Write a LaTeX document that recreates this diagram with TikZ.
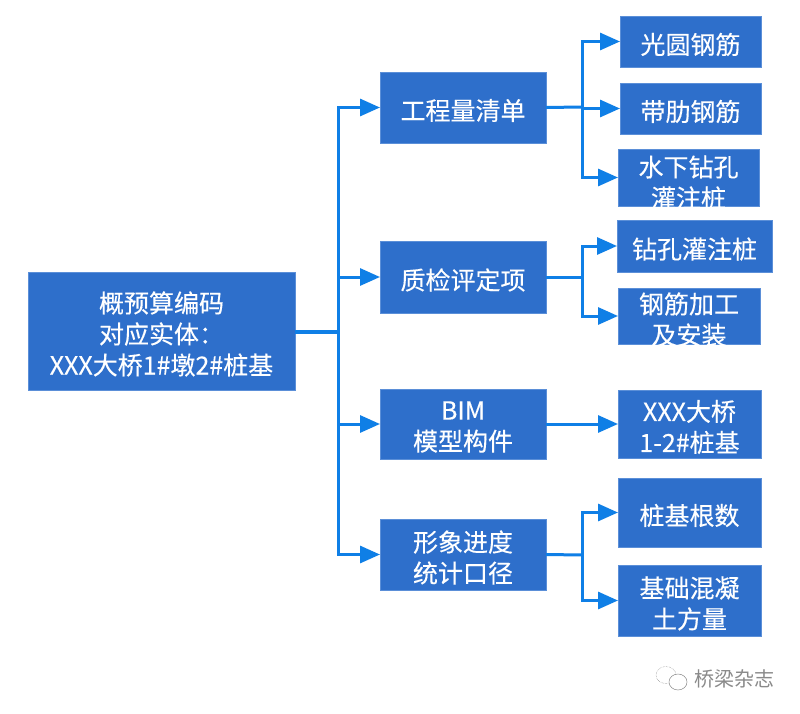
\documentclass[tikz,border=0pt]{standalone}
\usepackage{fontspec}
\setmainfont[FakeBold=0.25]{Noto Sans CJK SC}
\newfontfamily\markfont{Noto Sans CJK SC}
\usetikzlibrary{arrows.meta}
\definecolor{boxblue}{HTML}{2E6FCB}
\definecolor{boxedge}{HTML}{5B8FD8}
\definecolor{linkblue}{HTML}{0F7FE6}
\definecolor{markgray}{HTML}{8A8A8A}
\tikzset{
  box/.style={draw=boxedge,line width=0.6pt,fill=boxblue,inner sep=0pt,outer sep=0pt},
  lbl/.style={text=white,inner sep=0pt,align=center,font=\fontsize{25pt}{31pt}\selectfont},
  link/.style={draw=linkblue,line width=3pt},
  arr/.style={link,-{Triangle[length=20pt,width=17pt]}},
}
% name, left, right, top, bottom, text y offset, text
\newcommand{\bx}[7]{\node[box,minimum width=#3 pt-#2 pt,minimum height=#5 pt-#4 pt] (#1) at ({(#2+#3)/2},{(#4+#5)/2}) {};
  \node[lbl] (#1t) at ([yshift=-#6 pt]#1.center) {#7};}
\begin{document}
\begin{tikzpicture}[x=1pt,y=-1pt]
\useasboundingbox (0,0) rectangle (800,714);
\fill[white] (0,0) rectangle (800,714);
\bx{root}{28}{295}{272}{390}{3}{概预算编码\\对应实体：\\XXX大桥1\#墩2\#桩基}
\bx{a}{380}{546}{72}{143}{3}{工程量清单}
\bx{b}{380}{546}{241}{313}{3}{质检评定项}
\bx{c}{380}{546}{389}{459}{3}{BIM\\模型构件}
\bx{d}{380}{546}{519}{590}{3}{形象进度\\统计口径}
\bx{a1}{620}{761}{16}{67}{3}{光圆钢筋}
\bx{a2}{620}{761}{83}{134}{3}{带肋钢筋}
\bx{a3}{618}{759}{149}{206}{5}{水下钻孔\\灌注桩}
\bx{b1}{617}{772}{220}{272}{3}{钻孔灌注桩}
\bx{b2}{618}{760}{288}{344}{3.5}{钢筋加工\\及安装}
\bx{c1}{618}{761}{390}{458}{3}{XXX大桥\\1-2\#桩基}
\bx{d1}{618}{761}{478}{547}{3}{桩基根数}
\bx{d2}{618}{761}{565}{636}{3}{基础混凝\\土方量}
% trunk junctions
\coordinate (j0) at (338,332);
\coordinate (ja) at (582,107);
\coordinate (jb) at (582,277);
\coordinate (jd) at (582,555);
\draw[link,line width=4pt] (root.east|-j0) -- (j0);
\foreach \t in {a,b,c,d} \draw[arr] (j0) |- (\t.west);
\draw[link] (a.east) -- (ja);
\foreach \t in {a1,a2,a3} \draw[arr] (ja) |- (\t.west);
\draw[link] (b.east) -- (jb);
\foreach \t in {b1,b2} \draw[arr] (jb) |- (\t.west);
\draw[arr] (c.east) -- (c1.west|-c.east);
\draw[link] (d.east) -- (jd);
\foreach \t in {d1,d2} \draw[arr] (jd) |- (\t.west);
% watermark
\draw[markgray,line width=0.5pt,densely dotted] (666,675) ellipse (10 and 8.5);
\draw[markgray,line width=0.5pt,fill=white] (678,682) ellipse (9 and 8);
\node[text=markgray,inner sep=0pt,font=\markfont\fontsize{20pt}{24pt}\selectfont] (wm) at (734,679) {桥梁杂志};
\end{tikzpicture}
\end{document}
